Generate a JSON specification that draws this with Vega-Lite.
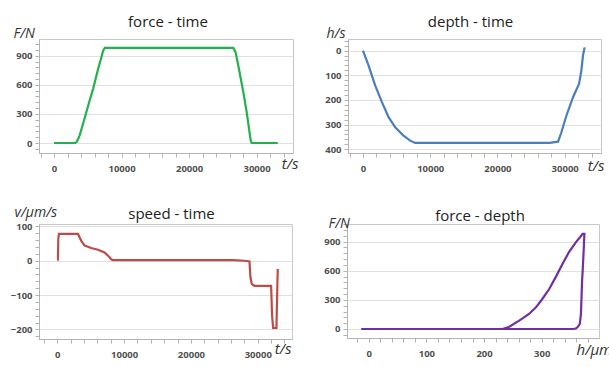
{
  "$schema": "https://vega.github.io/schema/vega-lite/v6.json",
  "background": "white",
  "padding": {"left": 9, "top": 14, "right": 0, "bottom": 0},
  "spacing": 30,
  "config": {
    "view": {"stroke": "#c8c8c8", "strokeWidth": 1},
    "axis": {
      "labelFont": "Open Sans", "labelFontSize": 9.5, "labelColor": "#505050", "labelFontWeight": "bold",
      "domainColor": "#b4b4b4", "tickColor": "#b4b4b4", "gridColor": "#e0e0e0",
      "titleFont": "Open Sans", "titleFontStyle": "italic", "titleFontWeight": "normal", "titleColor": "#333333",
      "tickSize": 4, "labelPadding": 3
    },
    "title": {"font": "Open Sans", "fontSize": 15, "fontWeight": "normal", "color": "#222222", "anchor": "middle", "baseline": "alphabetic"},
    "line": {"strokeWidth": 2.2}
  },
  "datasets": {
    "ft": [
      {"t": 0, "F": 0}, {"t": 3160, "F": 0}, {"t": 3400, "F": 15}, {"t": 3800, "F": 79}, {"t": 4200, "F": 175},
      {"t": 4650, "F": 284}, {"t": 5200, "F": 420}, {"t": 5790, "F": 558}, {"t": 6530, "F": 763}, {"t": 7000, "F": 880},
      {"t": 7270, "F": 951}, {"t": 7520, "F": 980}, {"t": 26560, "F": 980}, {"t": 26900, "F": 934}, {"t": 27300, "F": 797},
      {"t": 28040, "F": 524}, {"t": 28540, "F": 318}, {"t": 29130, "F": 27}, {"t": 29280, "F": 0}, {"t": 33140, "F": 0}
    ],
    "ht": [
      {"t": 0, "h": 0}, {"t": 840, "h": 61}, {"t": 1830, "h": 142}, {"t": 2820, "h": 209}, {"t": 3810, "h": 270},
      {"t": 4800, "h": 311}, {"t": 6030, "h": 345}, {"t": 7020, "h": 365}, {"t": 7760, "h": 374}, {"t": 27780, "h": 374},
      {"t": 29020, "h": 369}, {"t": 29510, "h": 331}, {"t": 30250, "h": 264}, {"t": 31240, "h": 189}, {"t": 32130, "h": 135},
      {"t": 32480, "h": 81}, {"t": 32720, "h": 20}, {"t": 32970, "h": -13}
    ],
    "vt": [
      {"t": 0, "v": 3}, {"t": 100, "v": 3}, {"t": 150, "v": 63}, {"t": 250, "v": 78}, {"t": 3090, "v": 78},
      {"t": 3590, "v": 58}, {"t": 4090, "v": 44}, {"t": 5085, "v": 37}, {"t": 6080, "v": 32}, {"t": 7080, "v": 24},
      {"t": 7830, "v": 10}, {"t": 8075, "v": 4}, {"t": 8300, "v": 2}, {"t": 26270, "v": 2}, {"t": 28015, "v": 0},
      {"t": 28760, "v": -2}, {"t": 28910, "v": -49}, {"t": 29110, "v": -68}, {"t": 29510, "v": -73}, {"t": 32000, "v": -73},
      {"t": 32150, "v": -160}, {"t": 32300, "v": -196}, {"t": 32800, "v": -196}, {"t": 32880, "v": -120}, {"t": 32950, "v": -60},
      {"t": 33000, "v": -24}
    ],
    "fh": [
      {"i": 1, "h": 0, "F": 0}, {"i": 2, "h": 232, "F": 0}, {"i": 3, "h": 243, "F": 21}, {"i": 4, "h": 261, "F": 86},
      {"i": 5, "h": 278, "F": 155}, {"i": 6, "h": 290, "F": 223}, {"i": 7, "h": 301, "F": 309}, {"i": 8, "h": 313, "F": 412},
      {"i": 9, "h": 324, "F": 532}, {"i": 10, "h": 336, "F": 670}, {"i": 11, "h": 347, "F": 790}, {"i": 12, "h": 359, "F": 893},
      {"i": 13, "h": 367, "F": 950}, {"i": 14, "h": 371, "F": 980}, {"i": 15, "h": 374, "F": 980}, {"i": 16, "h": 373, "F": 842},
      {"i": 17, "h": 371, "F": 600}, {"i": 18, "h": 370, "F": 498}, {"i": 19, "h": 368, "F": 155}, {"i": 20, "h": 366, "F": 52},
      {"i": 21, "h": 362, "F": 17}, {"i": 22, "h": 359, "F": 5}, {"i": 23, "h": 355, "F": 0}, {"i": 24, "h": -13, "F": 0}
    ]
  },
  "vconcat": [
    {
      "spacing": 25,
      "hconcat": [
        {
          "width": 254, "height": 114,
          "title": {"text": "force - time", "offset": -4, "dx": 2},
          "data": {"name": "ft"},
          "mark": {"type": "line", "color": "#22b14c"},
          "encoding": {
            "x": {"field": "t", "type": "quantitative",
              "scale": {"domain": [-2225, 35400], "nice": false, "zero": false},
              "axis": {"title": "t/s", "titleFontSize": 15, "titleAngle": 0, "titleX": 259, "titleY": 15, "titleAlign": "right", "titleBaseline": "alphabetic",
                "values": [-2000, 0, 2000, 4000, 6000, 8000, 10000, 12000, 14000, 16000, 18000, 20000, 22000, 24000, 26000, 28000, 30000, 32000, 34000],
                "format": "d", "labelExpr": "datum.value % 10000 === 0 ? datum.label : ''", "grid": false, "labelPadding": 6}},
            "y": {"field": "F", "type": "quantitative",
              "scale": {"domain": [-103, 1072], "nice": false, "zero": false},
              "axis": {"title": "F/N", "titleFontSize": 14, "titleAngle": 0, "titleX": -26, "titleY": -2, "titleAlign": "left", "titleBaseline": "alphabetic",
                "values": [-60, 0, 60, 120, 180, 240, 300, 360, 420, 480, 540, 600, 660, 720, 780, 840, 900, 960, 1020],
                "format": "d", "labelExpr": "datum.value % 300 === 0 ? datum.label : ''",
                "gridOpacity": {"condition": {"test": "datum.value % 300 === 0", "value": 1}, "value": 0}}}
          }
        },
        {
          "width": 253, "height": 114,
          "title": {"text": "depth - time", "offset": -4, "dx": -4},
          "data": {"name": "ht"},
          "mark": {"type": "line", "color": "#4a7ebb"},
          "encoding": {
            "x": {"field": "t", "type": "quantitative",
              "scale": {"domain": [-2225, 35400], "nice": false, "zero": false},
              "axis": {"title": "t/s", "titleFontSize": 15, "titleAngle": 0, "titleX": 256, "titleY": 17, "titleAlign": "right", "titleBaseline": "alphabetic",
                "values": [-2000, 0, 2000, 4000, 6000, 8000, 10000, 12000, 14000, 16000, 18000, 20000, 22000, 24000, 26000, 28000, 30000, 32000, 34000],
                "format": "d", "labelExpr": "datum.value % 10000 === 0 ? datum.label : ''", "grid": false, "labelPadding": 6}},
            "y": {"field": "h", "type": "quantitative",
              "scale": {"domain": [-47, 415], "nice": false, "zero": false, "reverse": true},
              "axis": {"title": "h/s", "titleFontSize": 14, "titleAngle": 0, "titleX": -22, "titleY": -2, "titleAlign": "left", "titleBaseline": "alphabetic",
                "values": [-40, -20, 0, 20, 40, 60, 80, 100, 120, 140, 160, 180, 200, 220, 240, 260, 280, 300, 320, 340, 360, 380, 400],
                "format": "d", "labelExpr": "datum.value % 100 === 0 ? datum.label : ''",
                "gridOpacity": {"condition": {"test": "datum.value % 100 === 0", "value": 1}, "value": 0}}}
          }
        }
      ]
    },
    {
      "spacing": 30,
      "hconcat": [
        {
          "width": 253, "height": 115,
          "title": {"text": "speed - time", "offset": -17, "dx": 6},
          "data": {"name": "vt"},
          "mark": {"type": "line", "color": "#be4b48"},
          "encoding": {
            "x": {"field": "t", "type": "quantitative",
              "scale": {"domain": [-2735, 35127], "nice": false, "zero": false},
              "axis": {"title": "t/s", "titleFontSize": 15, "titleAngle": 0, "titleX": 252, "titleY": 14, "titleAlign": "right", "titleBaseline": "alphabetic",
                "values": [-2000, 0, 2000, 4000, 6000, 8000, 10000, 12000, 14000, 16000, 18000, 20000, 22000, 24000, 26000, 28000, 30000, 32000, 34000],
                "format": "d", "labelExpr": "datum.value % 10000 === 0 ? datum.label : ''", "grid": false, "labelPadding": 6}},
            "y": {"field": "v", "type": "quantitative",
              "scale": {"domain": [-228, 107], "nice": false, "zero": false},
              "axis": {"title": "v/µm/s", "titleFontSize": 14, "titleAngle": 0, "titleX": -25, "titleY": -8, "titleAlign": "left", "titleBaseline": "alphabetic",
                "values": [-220, -200, -180, -160, -140, -120, -100, -80, -60, -40, -20, 0, 20, 40, 60, 80, 100],
                "format": "d", "labelExpr": "datum.value % 100 === 0 ? datum.label : ''",
                "gridOpacity": {"condition": {"test": "datum.value % 100 === 0", "value": 1}, "value": 0}}}
          }
        },
        {
          "width": 252, "height": 114,
          "title": {"text": "force - depth", "offset": -8, "dx": 7},
          "data": {"name": "fh"},
          "mark": {"type": "line", "color": "#7030a0"},
          "encoding": {
            "order": {"field": "i", "type": "quantitative"},
            "x": {"field": "h", "type": "quantitative",
              "scale": {"domain": [-37.6, 399.3], "nice": false, "zero": false},
              "axis": {"title": "h/µm", "titleFontSize": 15, "titleAngle": 0, "titleX": 229, "titleY": 16, "titleAlign": "left", "titleBaseline": "alphabetic",
                "values": [-20, 0, 20, 40, 60, 80, 100, 120, 140, 160, 180, 200, 220, 240, 260, 280, 300, 320, 340, 360, 380],
                "format": "d", "labelExpr": "datum.value % 100 === 0 ? datum.label : ''", "grid": false, "labelPadding": 6}},
            "y": {"field": "F", "type": "quantitative",
              "scale": {"domain": [-93, 1082], "nice": false, "zero": false},
              "axis": {"title": "F/N", "titleFontSize": 14, "titleAngle": 0, "titleX": -19, "titleY": 3, "titleAlign": "left", "titleBaseline": "alphabetic",
                "values": [-60, 0, 60, 120, 180, 240, 300, 360, 420, 480, 540, 600, 660, 720, 780, 840, 900, 960, 1020, 1080],
                "format": "d", "labelExpr": "datum.value % 300 === 0 ? datum.label : ''",
                "gridOpacity": {"condition": {"test": "datum.value % 300 === 0", "value": 1}, "value": 0}}}
          }
        }
      ]
    }
  ]
}
